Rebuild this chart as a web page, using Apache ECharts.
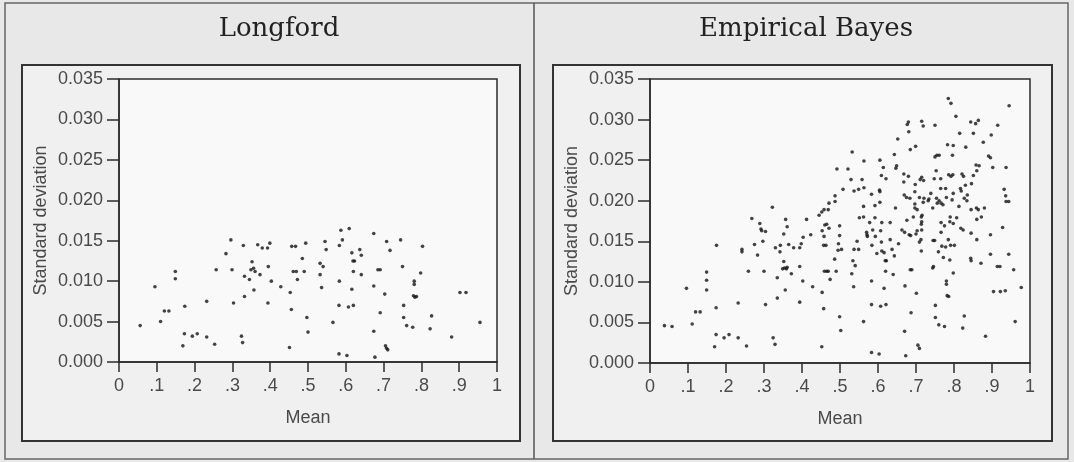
<!DOCTYPE html>
<html>
<head>
<meta charset="utf-8">
<script src="https://cdn.jsdelivr.net/npm/echarts@6/dist/echarts.min.js"></script>
<style>
  html, body { margin: 0; padding: 0; background: #e8e8e8; }
  #chart { width: 1074px; height: 462px; }
</style>
</head>
<body>
<div id="chart"></div>
<script>
// Panel titles
const panelTitles = ['Longford', 'Empirical Bayes'];

// Axis tick labels
const xTickLabels = ['0', '.1', '.2', '.3', '.4', '.5', '.6', '.7', '.8', '.9', '1'];
const yTickLabels = ['0.000', '0.005', '0.010', '0.015', '0.020', '0.025', '0.030', '0.035'];

// Longford: mean and standard deviation per unit
const longfordMean = [
  0.056, 0.095, 0.110, 0.120, 0.132, 0.149, 0.149, 0.169, 0.173, 0.174,
  0.194, 0.207, 0.232, 0.232, 0.253, 0.257, 0.283, 0.296, 0.299, 0.303,
  0.324, 0.327, 0.329, 0.332, 0.332, 0.345, 0.352, 0.357, 0.349, 0.356,
  0.360, 0.367, 0.373, 0.379, 0.393, 0.399, 0.395, 0.403, 0.394, 0.428,
  0.453, 0.456, 0.451, 0.457, 0.467, 0.461, 0.469, 0.472, 0.485, 0.494,
  0.490, 0.497, 0.500, 0.545, 0.548, 0.532, 0.540, 0.532, 0.536, 0.566,
  0.582, 0.603, 0.587, 0.609, 0.591, 0.583, 0.583, 0.582, 0.607, 0.620,
  0.616, 0.620, 0.616, 0.619, 0.623, 0.637, 0.641, 0.641, 0.674, 0.674,
  0.685, 0.691, 0.691, 0.703, 0.674, 0.677, 0.705, 0.708, 0.711, 0.708,
  0.717, 0.745, 0.750, 0.753, 0.753, 0.761, 0.777, 0.781, 0.781, 0.779,
  0.783, 0.787, 0.798, 0.803, 0.827, 0.823, 0.880, 0.902, 0.918, 0.955
];
const longfordSd = [
  0.0045, 0.0093, 0.0050, 0.0063, 0.0063, 0.0112, 0.0103, 0.0020, 0.0035, 0.0069,
  0.0032, 0.0035, 0.0075, 0.0031, 0.0022, 0.0114, 0.0134, 0.0151, 0.0114, 0.0073,
  0.0032, 0.0024, 0.0144, 0.0106, 0.0081, 0.0102, 0.0124, 0.0089, 0.0114, 0.0116,
  0.0112, 0.0145, 0.0108, 0.0141, 0.0141, 0.0147, 0.0118, 0.0100, 0.0073, 0.0093,
  0.0086, 0.0065, 0.0018, 0.0143, 0.0143, 0.0112, 0.0112, 0.0102, 0.0128, 0.0147,
  0.0112, 0.0055, 0.0037, 0.0149, 0.0139, 0.0122, 0.0118, 0.0108, 0.0092, 0.0049,
  0.0010, 0.0008, 0.0163, 0.0165, 0.0151, 0.0144, 0.0100, 0.0070, 0.0068, 0.0070,
  0.0090, 0.0112, 0.0135, 0.0125, 0.0125, 0.0139, 0.0132, 0.0108, 0.0159, 0.0094,
  0.0114, 0.0114, 0.0061, 0.0084, 0.0038, 0.0006, 0.0020, 0.0017, 0.0015, 0.0149,
  0.0138, 0.0151, 0.0118, 0.0070, 0.0055, 0.0045, 0.0043, 0.0100, 0.0096, 0.0082,
  0.0080, 0.0081, 0.0110, 0.0143, 0.0057, 0.0041, 0.0031, 0.0086, 0.0086, 0.0049
];

// Empirical Bayes: mean and standard deviation per unit
const bayesMean = [
  0.038, 0.058, 0.096, 0.111, 0.120, 0.132, 0.149, 0.149, 0.149, 0.170,
  0.174, 0.174, 0.175, 0.195, 0.208, 0.232, 0.232, 0.254, 0.242, 0.242,
  0.259, 0.268, 0.275, 0.283, 0.289, 0.292, 0.294, 0.304, 0.297, 0.300,
  0.304, 0.322, 0.324, 0.329, 0.330, 0.335, 0.335, 0.342,
  0.343, 0.652, 0.532, 0.643, 0.563, 0.605, 0.492, 0.521, 0.614, 0.647,
  0.649, 0.609, 0.621, 0.529, 0.558, 0.508, 0.537, 0.549, 0.563, 0.604,
  0.605, 0.583, 0.487, 0.487, 0.471, 0.605, 0.592, 0.562, 0.646, 0.458,
  0.452, 0.445, 0.469, 0.412, 0.357, 0.361, 0.460, 0.465, 0.499, 0.562,
  0.551, 0.592, 0.578, 0.610, 0.632, 0.453, 0.471, 0.352, 0.403, 0.423,
  0.570, 0.571, 0.572, 0.586, 0.607, 0.499, 0.458, 0.593, 0.654, 0.398,
  0.545, 0.609, 0.632, 0.365, 0.378, 0.394, 0.457, 0.463, 0.496, 0.495,
  0.537, 0.549, 0.504, 0.584, 0.597, 0.610, 0.616, 0.637, 0.643, 0.619,
  0.622, 0.352, 0.361, 0.354, 0.349, 0.359, 0.372, 0.394, 0.486, 0.459,
  0.465, 0.469, 0.490, 0.534, 0.540, 0.531, 0.474, 0.402, 0.620, 0.640,
  0.583, 0.356, 0.428, 0.453, 0.536, 0.616, 0.394, 0.457, 0.583, 0.607,
  0.621, 0.499, 0.562, 0.502, 0.452, 0.583, 0.603,
  0.785, 0.792, 0.945, 0.805, 0.680, 0.677, 0.715, 0.719, 0.750, 0.844,
  0.857, 0.864, 0.915, 0.681, 0.815, 0.851, 0.898, 0.877, 0.783, 0.798,
  0.831, 0.685, 0.699, 0.750, 0.755, 0.761, 0.796, 0.891, 0.896, 0.858,
  0.866, 0.902, 0.937, 0.860, 0.753, 0.786, 0.792, 0.797, 0.821, 0.825,
  0.851, 0.668, 0.680, 0.711, 0.715, 0.720, 0.748, 0.765, 0.668, 0.698,
  0.830, 0.846, 0.765, 0.778, 0.817, 0.819, 0.932, 0.697, 0.739, 0.798,
  0.835, 0.669, 0.675, 0.684, 0.709, 0.721, 0.734, 0.754, 0.761, 0.766,
  0.771, 0.756, 0.780, 0.795, 0.827, 0.834, 0.936, 0.937, 0.944, 0.719,
  0.732, 0.697, 0.744, 0.813, 0.845, 0.859, 0.864, 0.880, 0.697, 0.703,
  0.716, 0.714, 0.693, 0.872, 0.790, 0.807, 0.860, 0.676, 0.715, 0.714,
  0.766, 0.775, 0.789, 0.798, 0.818, 0.824, 0.928, 0.663, 0.670, 0.682,
  0.686, 0.703, 0.715, 0.700, 0.766, 0.845, 0.896, 0.713, 0.709, 0.745,
  0.749, 0.785, 0.860, 0.791, 0.801, 0.768, 0.778, 0.714, 0.759, 0.772,
  0.789, 0.844, 0.845, 0.871, 0.896, 0.944, 0.744, 0.746, 0.685, 0.689,
  0.798, 0.914, 0.921, 0.957, 0.671, 0.701, 0.780, 0.780, 0.782, 0.786,
  0.904, 0.922, 0.935, 0.977, 0.687, 0.751, 0.751, 0.760, 0.775, 0.827,
  0.823, 0.961, 0.883, 0.670, 0.705, 0.709, 0.673
];
const bayesSd = [
  0.0046, 0.0045, 0.0092, 0.0048, 0.0063, 0.0063, 0.0112, 0.0102, 0.0090, 0.0020,
  0.0035, 0.0068, 0.0145, 0.0031, 0.0035, 0.0031, 0.0074, 0.0021, 0.0140, 0.0137,
  0.0113, 0.0178, 0.0146, 0.0133, 0.0172, 0.0165, 0.0163, 0.0162, 0.0150, 0.0113,
  0.0072, 0.0192, 0.0031, 0.0023, 0.0142, 0.0105, 0.0080, 0.0137,
  0.0145, 0.0276, 0.0260, 0.0257, 0.0249, 0.0250, 0.0239, 0.0239, 0.0241, 0.0240,
  0.0243, 0.0231, 0.0227, 0.0226, 0.0226, 0.0214, 0.0212, 0.0214, 0.0216, 0.0213,
  0.0211, 0.0208, 0.0206, 0.0199, 0.0197, 0.0198, 0.0194, 0.0193, 0.0191, 0.0189,
  0.0186, 0.0182, 0.0189, 0.0177, 0.0177, 0.0168, 0.0170, 0.0171, 0.0169, 0.0180,
  0.0179, 0.0179, 0.0173, 0.0173, 0.0173, 0.0163, 0.0166, 0.0159, 0.0155, 0.0158,
  0.0161, 0.0158, 0.0156, 0.0164, 0.0163, 0.0157, 0.0156, 0.0156, 0.0147, 0.0147,
  0.0150, 0.0149, 0.0152, 0.0146, 0.0142, 0.0142, 0.0145, 0.0145, 0.0147, 0.0139,
  0.0140, 0.0140, 0.0140, 0.0145, 0.0135, 0.0138, 0.0136, 0.0140, 0.0132, 0.0126,
  0.0126, 0.0125, 0.0118, 0.0117, 0.0116, 0.0116, 0.0110, 0.0119, 0.0128, 0.0113,
  0.0113, 0.0113, 0.0113, 0.0126, 0.0120, 0.0110, 0.0103, 0.0101, 0.0113, 0.0109,
  0.0101, 0.0090, 0.0094, 0.0087, 0.0094, 0.0092, 0.0075, 0.0067, 0.0072, 0.0070,
  0.0072, 0.0057, 0.0051, 0.0040, 0.0020, 0.0013, 0.0011,
  0.0326, 0.0320, 0.0317, 0.0304, 0.0297, 0.0294, 0.0298, 0.0292, 0.0293, 0.0297,
  0.0295, 0.0299, 0.0293, 0.0285, 0.0283, 0.0283, 0.0281, 0.0272, 0.0269, 0.0268,
  0.0266, 0.0263, 0.0267, 0.0254, 0.0256, 0.0256, 0.0256, 0.0255, 0.0253, 0.0244,
  0.0243, 0.0241, 0.0241, 0.0237, 0.0237, 0.0232, 0.0230, 0.0232, 0.0233, 0.0230,
  0.0231, 0.0233, 0.0230, 0.0226, 0.0229, 0.0225, 0.0227, 0.0227, 0.0223, 0.0220,
  0.0219, 0.0221, 0.0215, 0.0215, 0.0215, 0.0212, 0.0214, 0.0211, 0.0209, 0.0209,
  0.0207, 0.0207, 0.0204, 0.0203, 0.0204, 0.0203, 0.0202, 0.0203, 0.0200, 0.0197,
  0.0195, 0.0197, 0.0204, 0.0201, 0.0203, 0.0200, 0.0206, 0.0199, 0.0199, 0.0198,
  0.0200, 0.0196, 0.0191, 0.0193, 0.0189, 0.0191, 0.0189, 0.0191, 0.0191, 0.0189,
  0.0182, 0.0180, 0.0180, 0.0180, 0.0180, 0.0179, 0.0177, 0.0176, 0.0174, 0.0171,
  0.0173, 0.0169, 0.0174, 0.0172, 0.0166, 0.0164, 0.0167, 0.0164, 0.0161, 0.0158,
  0.0157, 0.0163, 0.0164, 0.0159, 0.0161, 0.0160, 0.0158, 0.0152, 0.0149, 0.0151,
  0.0151, 0.0152, 0.0152, 0.0145, 0.0145, 0.0144, 0.0143, 0.0138, 0.0137, 0.0130,
  0.0127, 0.0129, 0.0126, 0.0123, 0.0134, 0.0134, 0.0117, 0.0119, 0.0115, 0.0115,
  0.0111, 0.0119, 0.0119, 0.0115, 0.0095, 0.0086, 0.0101, 0.0097, 0.0083, 0.0082,
  0.0088, 0.0088, 0.0089, 0.0093, 0.0062, 0.0071, 0.0056, 0.0047, 0.0045, 0.0058,
  0.0043, 0.0051, 0.0033, 0.0039, 0.0022, 0.0018, 0.0009
];

const pairs = (xs, ys) => xs.map((x, i) => [x, ys[i]]);

const INK = '#2b2b2b';
const LABEL = '#4a4a4a';
const SANS = 'Liberation Sans';

function xAxisFor(gridIndex) {
  return {
    gridIndex, type: 'value', min: 0, max: 1, interval: 0.1,
    name: 'Mean', nameLocation: 'middle', nameGap: 47,
    nameTextStyle: { fontFamily: SANS, fontSize: 18, color: LABEL },
    axisLine: { show: true, lineStyle: { color: INK, width: 1.5 } },
    axisTick: { show: true, inside: false, length: 10, lineStyle: { color: INK, width: 1.5 } },
    axisLabel: {
      fontFamily: SANS, fontSize: 18, color: LABEL, margin: 15,
      formatter: v => xTickLabels[Math.round(v * 10)]
    },
    splitLine: { show: false }
  };
}

function yAxisFor(gridIndex) {
  return {
    gridIndex, type: 'value', min: 0, max: 0.035, interval: 0.005,
    name: 'Standard deviation', nameLocation: 'middle', nameGap: 69,
    nameTextStyle: { fontFamily: SANS, fontSize: 18, color: LABEL },
    axisLine: { show: true, lineStyle: { color: INK, width: 1.5 } },
    axisTick: { show: true, inside: false, length: 12, lineStyle: { color: INK, width: 1.5 } },
    axisLabel: {
      fontFamily: SANS, fontSize: 18, color: LABEL, margin: 16,
      formatter: v => yTickLabels[Math.round(v / 0.005)]
    },
    splitLine: { show: false }
  };
}

function scatterFor(idx, data) {
  return {
    type: 'scatter', xAxisIndex: idx, yAxisIndex: idx, data,
    symbol: 'circle', symbolSize: 3.6,
    itemStyle: { color: '#151515' },
    silent: true
  };
}

const chart = echarts.init(document.getElementById('chart'), null, { renderer: 'canvas' });

chart.setOption({
  backgroundColor: '#e8e8e8',
  animation: false,
  title: [
    { text: panelTitles[0], left: 274, top: 11, textAlign: 'center',
      textStyle: { fontFamily: 'DejaVu Serif', fontSize: 26, fontWeight: 'normal', color: '#222' } },
    { text: panelTitles[1], left: 801, top: 11, textAlign: 'center',
      textStyle: { fontFamily: 'DejaVu Serif', fontSize: 26, fontWeight: 'normal', color: '#222' } }
  ],
  graphic: [
    // outer frame of both panels and the divider between them
    { type: 'rect', z: -100, shape: { x: 5, y: 3, width: 1063, height: 456 },
      style: { fill: '#e8e8e8', stroke: '#666', lineWidth: 1.5 } },
    { type: 'line', z: -99, shape: { x1: 534, y1: 3, x2: 534, y2: 459 },
      style: { stroke: '#555', lineWidth: 1.5 } },
    // boxes around each plot
    { type: 'rect', z: -98, shape: { x: 22, y: 65, width: 498, height: 376 },
      style: { fill: '#f0f0f0', stroke: '#333', lineWidth: 2 } },
    { type: 'rect', z: -98, shape: { x: 553, y: 65, width: 499, height: 376 },
      style: { fill: '#f0f0f0', stroke: '#333', lineWidth: 2 } }
  ],
  grid: [
    { left: 119, top: 79, width: 378, height: 283, show: true,
      backgroundColor: '#f9f9f9', borderColor: INK, borderWidth: 1.5 },
    { left: 650, top: 79, width: 380, height: 284, show: true,
      backgroundColor: '#f9f9f9', borderColor: INK, borderWidth: 1.5 }
  ],
  xAxis: [xAxisFor(0), xAxisFor(1)],
  yAxis: [yAxisFor(0), yAxisFor(1)],
  series: [
    scatterFor(0, pairs(longfordMean, longfordSd)),
    scatterFor(1, pairs(bayesMean, bayesSd))
  ]
});
</script>
</body>
</html>
